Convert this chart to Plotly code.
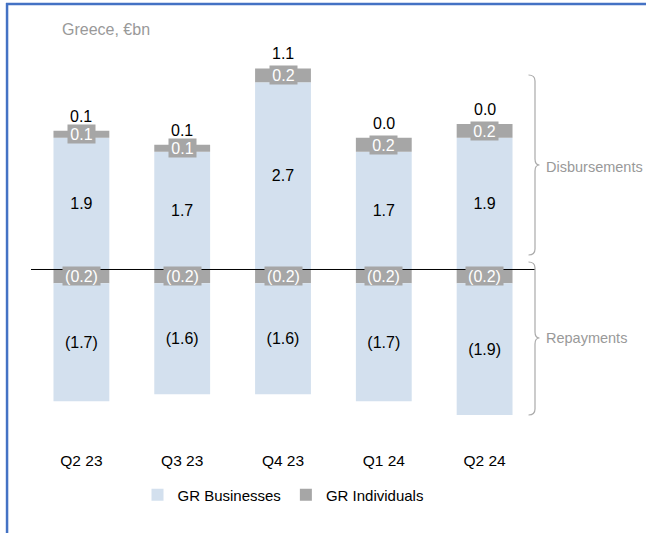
import plotly.graph_objects as go

# ---------------- data ----------------
categories = ["Q2 23", "Q3 23", "Q4 23", "Q1 24", "Q2 24"]
bus_disb = [1.9, 1.7, 2.7, 1.7, 1.9]        # GR Businesses disbursements
ind_disb = [0.1, 0.1, 0.2, 0.2, 0.2]        # GR Individuals disbursements
other_disb = [0.1, 0.1, 1.1, 0.0, 0.0]      # labels shown above bars
ind_rep = [-0.2, -0.2, -0.2, -0.2, -0.2]    # GR Individuals repayments
bus_rep = [-1.7, -1.6, -1.6, -1.7, -1.9]    # GR Businesses repayments

# ---------------- style ----------------
BLUE = "#d3e0ee"
GREY = "#a6a6a6"
TXTGREY = "#999999"
FRAME = "#4472c4"
FONT = "Liberation Sans, Arial, Helvetica, sans-serif"

FW, FH = 646, 533
L, R, T, B = 30.5, 110.5, 40, 93
PW, PH = FW - L - R, FH - T - B


def px2x(px):
    return (px - L) / PW


def px2y(py):
    return (FH - B - py) / PH


def fmt(v):
    return f"{v:.1f}" if v >= 0 else f"({-v:.1f})"


fig = go.Figure()
fig.add_trace(go.Bar(
    x=categories, y=bus_disb, name="GR Businesses", marker_color=BLUE,
    marker_line_width=0, legendgroup="bus",
    text=[fmt(v) for v in bus_disb], textposition="inside",
    insidetextanchor="middle", textangle=0,
    textfont=dict(color="black", size=16, family=FONT),
))
fig.add_trace(go.Bar(
    x=categories, y=ind_disb, name="GR Individuals", marker_color=GREY,
    marker_line_width=0, legendgroup="ind",
))
fig.add_trace(go.Bar(
    x=categories, y=ind_rep, name="GR Individuals", marker_color=GREY,
    marker_line_width=0, legendgroup="ind", showlegend=False,
))
fig.add_trace(go.Bar(
    x=categories, y=bus_rep, name="GR Businesses", marker_color=BLUE,
    marker_line_width=0, legendgroup="bus", showlegend=False,
    text=[fmt(v) for v in bus_rep], textposition="inside",
    insidetextanchor="middle", textangle=0,
    textfont=dict(color="black", size=16, family=FONT),
))

annotations = []
for c, b, i, o, ir in zip(categories, bus_disb, ind_disb, other_disb, ind_rep):
    # individuals disbursement label box
    annotations.append(dict(
        x=c, y=b + i / 2, xref="x", yref="y", text=fmt(i), showarrow=False,
        bgcolor=GREY, font=dict(color="white", size=16, family=FONT),
        borderpad=0, width=27, height=18,
    ))
    # individuals repayment label box
    annotations.append(dict(
        x=c, y=ir / 2, xref="x", yref="y", text=fmt(ir), showarrow=False,
        bgcolor=GREY, font=dict(color="white", size=16, family=FONT),
        borderpad=0, width=37, height=18,
    ))
    # top label
    annotations.append(dict(
        x=c, y=b + i, xref="x", yref="y", text=fmt(o), showarrow=False,
        yanchor="bottom", yshift=4,
        font=dict(color="black", size=16, family=FONT),
    ))

# brace labels
annotations.append(dict(x=px2x(545), y=px2y(167), xref="paper", yref="paper",
                        text="Disbursements", showarrow=False,
                        xanchor="left", yanchor="middle",
                        font=dict(color=TXTGREY, size=14.5, family=FONT)))
annotations.append(dict(x=px2x(545), y=px2y(338), xref="paper", yref="paper",
                        text="Repayments", showarrow=False,
                        xanchor="left", yanchor="middle",
                        font=dict(color=TXTGREY, size=14.5, family=FONT)))


def brace(top, bottom, tip, xv=535.5, xl=529, xt=540):
    pts = lambda x, y: f"{px2x(x):.5f},{px2y(y):.5f}"
    return (f"M{pts(xl, top)} Q{pts(xv, top)} {pts(xv, top + 6)} "
            f"L{pts(xv, tip - 6)} Q{pts(xv, tip)} {pts(xt, tip)} "
            f"Q{pts(xv, tip)} {pts(xv, tip + 6)} "
            f"L{pts(xv, bottom - 6)} Q{pts(xv, bottom)} {pts(xl, bottom)}")


shapes = [
    # zero line
    dict(type="line", xref="paper", yref="y", x0=0, x1=1, y0=0, y1=0,
         line=dict(color="black", width=1), layer="above"),
    # frame
    dict(type="line", xref="paper", yref="paper", x0=px2x(6.5), x1=px2x(6.5),
         y0=px2y(3), y1=px2y(540), line=dict(color=FRAME, width=2.5)),
    dict(type="line", xref="paper", yref="paper", x0=px2x(5.5), x1=px2x(650),
         y0=px2y(4), y1=px2y(4), line=dict(color=FRAME, width=2.5)),
    # braces
    dict(type="path", xref="paper", yref="paper", path=brace(75, 255, 165),
         line=dict(color="#aaaaaa", width=1.2)),
    dict(type="path", xref="paper", yref="paper", path=brace(262, 415, 338),
         line=dict(color="#aaaaaa", width=1.2)),
]

fig.update_layout(
    width=FW, height=FH,
    margin=dict(l=L, r=R, t=T, b=B, autoexpand=False),
    paper_bgcolor="white", plot_bgcolor="white",
    barmode="relative", bargap=0.446,
    title=dict(text="Greece, €bn", x=62 / FW, xanchor="left",
               y=1 - 29 / FH, yanchor="middle",
               font=dict(color=TXTGREY, size=16, family=FONT)),
    xaxis=dict(showgrid=False, showline=False, zeroline=False,
               ticks="outside", ticklen=6, tickcolor="rgba(0,0,0,0)",
               tickfont=dict(color="black", size=15.5, family=FONT),
               range=[-0.5, 4.5]),
    yaxis=dict(visible=False, range=[-2.46, 3.311]),
    legend=dict(orientation="h", x=0.5, xanchor="center",
                y=px2y(495), yanchor="middle", itemwidth=30,
                font=dict(color="black", size=15, family=FONT),
                traceorder="normal"),
    showlegend=True,
    annotations=annotations,
    shapes=shapes,
)

fig.write_html(
    "out.html",
    config={"displayModeBar": False},
    post_script="document.body.style.margin='0px';document.body.style.padding='0px';",
)
